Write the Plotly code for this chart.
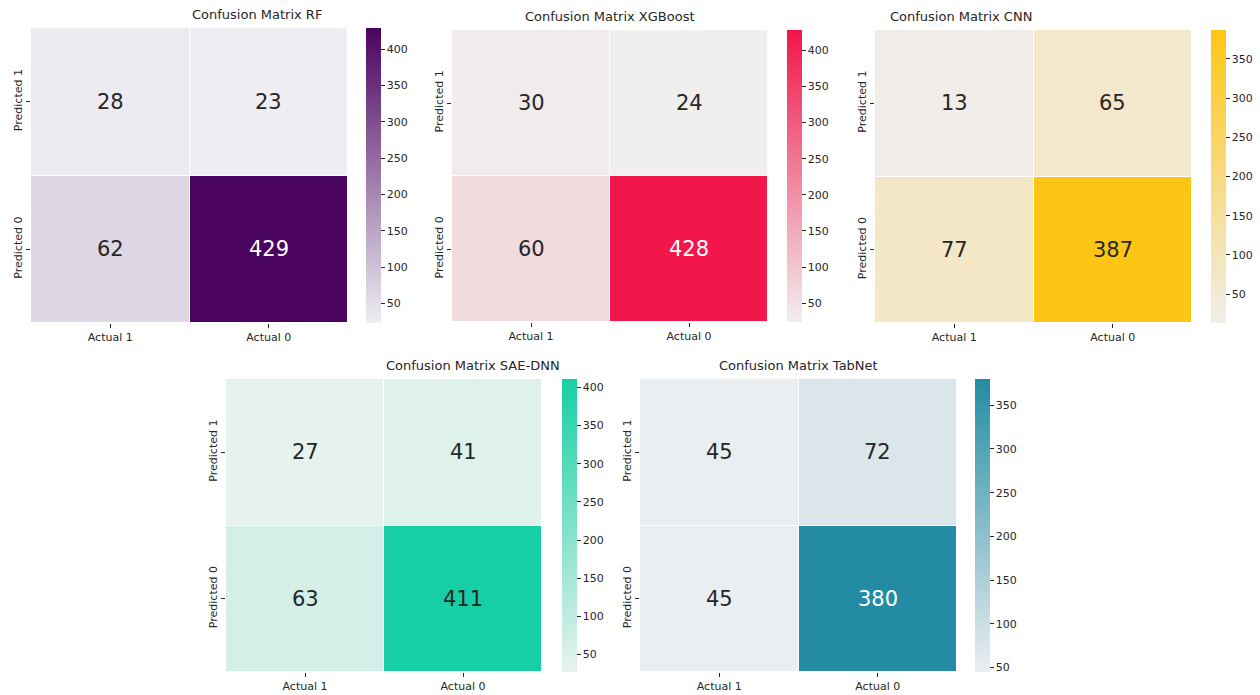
import plotly.graph_objects as go

W, H = 1260, 695

x_labels = ["Actual 1", "Actual 0"]
y_labels = ["Predicted 1", "Predicted 0"]

models = ["RF", "XGBoost", "CNN", "SAE-DNN", "TabNet"]

# rows: Predicted 1, Predicted 0 ; cols: Actual 1, Actual 0
cm_rf = [[28, 23], [62, 429]]
cm_xgb = [[30, 24], [60, 428]]
cm_cnn = [[13, 65], [77, 387]]
cm_sae = [[27, 41], [63, 411]]
cm_tab = [[45, 72], [45, 380]]
matrices = [cm_rf, cm_xgb, cm_cnn, cm_sae, cm_tab]

color_low = ["#EFEEF2", "#F1EEEE", "#F1EEEA", "#E7F2EE", "#EBEEF1"]
color_high = ["#4B0360", "#F2164A", "#FEC614", "#17CFA5", "#238CA4"]

cb_ticks = [
    [50, 100, 150, 200, 250, 300, 350, 400],
    [50, 100, 150, 200, 250, 300, 350, 400],
    [50, 100, 150, 200, 250, 300, 350],
    [50, 100, 150, 200, 250, 300, 350, 400],
    [50, 100, 150, 200, 250, 300, 350],
]

# pixel boxes: (left, right, top, bottom) of heatmap, colorbar left
boxes = [
    (31, 348, 28, 323, 366),
    (452, 768, 30, 322, 787),
    (875, 1192, 30, 323, 1211),
    (226, 542, 379, 672, 562),
    (640, 957, 379, 672, 975),
]

FONT = "DejaVu Sans"
TXT = "#262626"


def hex_rgb(h):
    h = h.lstrip("#")
    return tuple(int(h[i:i + 2], 16) for i in (0, 2, 4))


def luminance(h):
    r, g, b = hex_rgb(h)
    return 0.299 * r + 0.587 * g + 0.114 * b


fig = go.Figure()
layout = {}
annotations = []

for i, (name, cm, lo, hi, ticks, box) in enumerate(
        zip(models, matrices, color_low, color_high, cb_ticks, boxes)):
    l, r, t, b, cbx = box
    ax = "" if i == 0 else str(i + 1)
    xa, ya = "x" + ax, "y" + ax
    zmin = min(min(row) for row in cm)
    zmax = max(max(row) for row in cm)
    fig.add_trace(go.Heatmap(
        z=cm, x=x_labels, y=y_labels, xaxis=xa, yaxis=ya,
        colorscale=[[0, lo], [1, hi]], zmin=zmin, zmax=zmax,
        xgap=1, ygap=1, hoverinfo="z",
        colorbar=dict(
            x=cbx / W, xanchor="left", y=1 - t / H, yanchor="top",
            len=(b - t), lenmode="pixels", thickness=15,
            xpad=0, ypad=0, outlinewidth=0,
            tickmode="array", tickvals=ticks, ticks="outside",
            ticklen=4, tickwidth=1, tickcolor=TXT,
            tickfont=dict(family=FONT, size=11, color=TXT),
        ),
    ))
    layout["xaxis" + ax] = dict(
        domain=[l / W, r / W], anchor=ya, showgrid=False, zeroline=False,
        ticks="outside", ticklen=4, tickcolor=TXT, showline=False,
        tickfont=dict(family=FONT, size=11, color=TXT),
    )
    layout["yaxis" + ax] = dict(
        domain=[1 - b / H, 1 - t / H], anchor=xa, showgrid=False,
        zeroline=False, autorange="reversed", ticks="outside", ticklen=4,
        tickcolor=TXT, showline=False, tickangle=-90,
        tickfont=dict(family=FONT, size=11, color=TXT),
    )
    annotations.append(dict(
        text="Confusion Matrix " + name, xref="paper", yref="paper",
        x=(l + r) / 2 / W, y=1 - (t - 4) / H, yanchor="bottom",
        showarrow=False, font=dict(family=FONT, size=13, color=TXT),
    ))
    for ri, row in enumerate(cm):
        for ci, v in enumerate(row):
            frac = (v - zmin) / (zmax - zmin)
            rl, gl, bl = hex_rgb(lo)
            rh, gh, bh = hex_rgb(hi)
            cell = "#%02X%02X%02X" % (
                round(rl + (rh - rl) * frac), round(gl + (gh - gl) * frac),
                round(bl + (bh - bl) * frac))
            col = "white" if luminance(cell) < 140 else TXT
            annotations.append(dict(
                text=str(v), x=x_labels[ci], y=y_labels[ri], xref=xa, yref=ya,
                showarrow=False, font=dict(family=FONT, size=21, color=col),
            ))

fig.update_layout(
    width=W, height=H, margin=dict(l=0, r=0, t=0, b=0),
    paper_bgcolor="white", plot_bgcolor="white",
    annotations=annotations, showlegend=False, **layout,
)

fig.write_html("out.html")
